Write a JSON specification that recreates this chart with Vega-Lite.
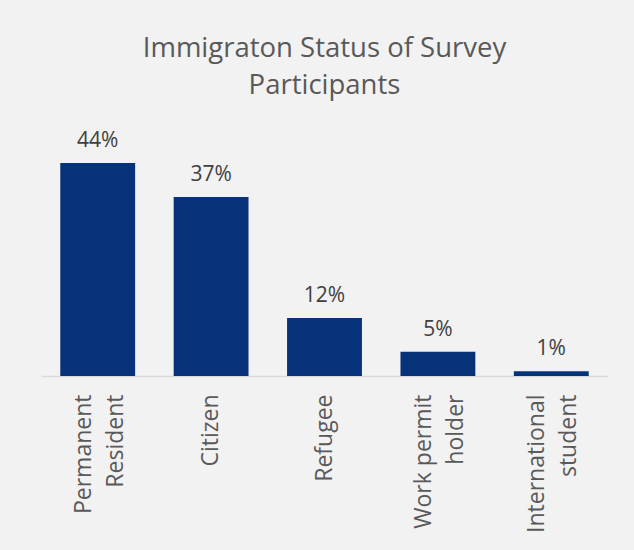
{
  "$schema": "https://vega.github.io/schema/vega-lite/v6.json",
  "width": 567,
  "height": 242,
  "autosize": {"type": "none"},
  "padding": {"left": 41, "top": 134, "right": 26, "bottom": 174},
  "background": "#f2f2f2",
  "title": {
    "text": ["Immigraton Status of Survey", "Participants"],
    "font": "Open Sans",
    "fontSize": 27.5,
    "fontWeight": "normal",
    "color": "#595959",
    "anchor": "middle",
    "baseline": "alphabetic",
    "lineHeight": 37,
    "offset": 9
  },
  "data": {
    "values": [
      {"status": "Permanent|Resident", "pct": 44, "label": "44%"},
      {"status": "Citizen", "pct": 37, "label": "37%"},
      {"status": "Refugee", "pct": 12, "label": "12%"},
      {"status": "Work permit|holder", "pct": 5, "label": "5%"},
      {"status": "International|student", "pct": 1, "label": "1%"}
    ]
  },
  "encoding": {
    "x": {
      "field": "status",
      "type": "nominal",
      "sort": null,
      "scale": {"paddingInner": 0.34, "paddingOuter": 0.17},
      "axis": {
        "title": null,
        "labelAngle": -90,
        "labelAlign": "right",
        "labelBaseline": "middle",
        "labelExpr": "split(datum.label, '|')",
        "labelOffset": {"condition": {"test": "indexof(datum.label, '|') >= 0", "value": -14}, "value": 0},
        "labelFont": "Open Sans",
        "labelFontSize": 23,
        "labelLineHeight": 32,
        "labelColor": "#595959",
        "labelPadding": 18,
        "ticks": false,
        "domainColor": "#d9d9d9",
        "domainWidth": 1.5
      }
    },
    "y": {
      "field": "pct",
      "type": "quantitative",
      "scale": {"domain": [0, 50]},
      "axis": null
    }
  },
  "layer": [
    {"mark": {"type": "bar", "color": "#06327a"}},
    {
      "mark": {"type": "text", "baseline": "alphabetic", "dy": -16, "font": "Open Sans", "fontSize": 21, "color": "#404040"},
      "encoding": {"text": {"field": "label"}}
    }
  ],
  "config": {"view": {"stroke": null}}
}
